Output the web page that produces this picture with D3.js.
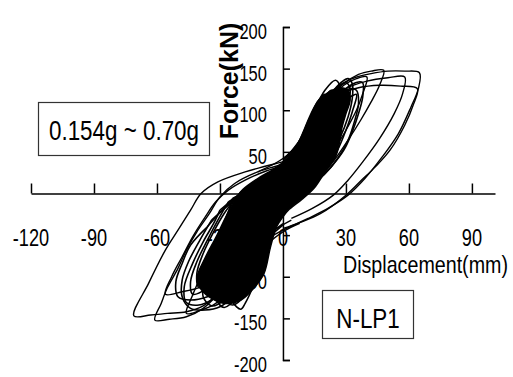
<!DOCTYPE html>
<html>
<head>
<meta charset="utf-8">
<script src="https://cdn.jsdelivr.net/npm/d3@7"></script>
<style>
  html, body { margin: 0; padding: 0; background: #ffffff; }
  svg { display: block; }
</style>
</head>
<body>
<div id="chart"></div>
<script>
// Axis ticks
const xTicks = [-120, -90, -60, -30, 30, 60, 90];
const xLabels = [-120, -90, -60, -30, 0, 30, 60, 90];
const yTicks = [-200, -150, -100, -50, 50, 100, 150, 200];

// Dense core of the small cycles, outline [disp, force]
const coreOutline = [
  [22, 122], [27, 127], [31, 124], [32, 112], [30, 96], [28, 78], [27, 62], [25, 44],
  [20, 26], [15, 7], [9, -7], [3, -19], [0, -28], [-3, -40], [-6, -65], [-9, -96],
  [-14, -114], [-20, -128], [-28, -132], [-34, -126], [-39, -115], [-41, -102],
  [-37, -77], [-32, -53], [-27, -27], [-23, -8], [-19, 5], [-12, 18], [-4, 30],
  [2, 42], [6, 55], [9, 70], [13, 94], [17, 112]
];

// Medium cycles around the core
const mid1 = [[-24, -6], [-14, 8], [-4, 24], [4, 42], [10, 68], [16, 94], [21, 114], [26, 128], [30, 133], [32, 126], [31, 108], [28, 84], [24, 58], [19, 36], [12, 16], [4, -2], [-4, -22], [-10, -48], [-16, -80], [-22, -108], [-28, -128], [-34, -135], [-38, -124], [-37, -100], [-34, -74], [-30, -46], [-26, -22], [-24, -6]];
const mid2 = [[-20, 2], [-10, 16], [0, 32], [6, 52], [12, 80], [18, 104], [23, 120], [27, 127], [28, 110], [26, 88], [23, 64], [18, 40], [12, 20], [4, 2], [-4, -18], [-12, -46], [-20, -72], [-28, -94], [-35, -108], [-40, -113], [-41, -96], [-38, -72], [-33, -46], [-28, -24], [-20, 2]];
const mid3 = [[-18, 6], [-8, 20], [2, 38], [10, 62], [18, 88], [26, 106], [32, 116], [35, 119], [33, 98], [30, 76], [26, 52], [21, 30], [14, 10], [5, -8], [-3, -30], [-9, -62], [-15, -96], [-21, -122], [-28, -137], [-32, -126], [-33, -104], [-31, -78], [-28, -52], [-24, -26], [-18, 6]];
const mid4 = [[-26, -10], [-16, 6], [-6, 22], [2, 40], [8, 62], [14, 90], [19, 112], [23, 124], [25, 120], [24, 100], [21, 78], [17, 54], [11, 30], [4, 10], [-4, -12], [-12, -40], [-20, -70], [-28, -96], [-36, -114], [-43, -121], [-44, -106], [-41, -82], [-36, -56], [-31, -32], [-26, -10]];
const mid5 = [[-30, -20], [-20, 0], [-8, 20], [2, 40], [10, 66], [17, 96], [23, 120], [28, 134], [31, 138], [33, 132], [33, 114], [31, 92], [27, 66], [22, 42], [15, 20], [6, 0], [-2, -20], [-10, -50], [-18, -84], [-26, -112], [-34, -128], [-40, -134], [-46, -131], [-47, -112], [-43, -84], [-38, -58], [-33, -36], [-30, -20]];
const mid6 = [[-16, 10], [-6, 24], [2, 40], [8, 64], [13, 92], [17, 112], [20, 119], [21, 106], [20, 86], [17, 62], [12, 38], [6, 16], [0, -4], [-4, -28], [-8, -60], [-13, -96], [-18, -122], [-24, -134], [-28, -126], [-28, -100], [-26, -70], [-23, -42], [-20, -16], [-16, 10]];
const mid7 = [[-34, -32], [-24, -10], [-12, 10], [0, 30], [10, 58], [18, 88], [25, 112], [31, 128], [36, 134], [38, 133], [38, 116], [36, 96], [33, 74], [29, 52], [23, 32], [16, 14], [8, -2], [0, -18], [-6, -40], [-12, -70], [-18, -100], [-24, -124], [-30, -136], [-37, -140], [-44, -138], [-48, -124], [-48, -104], [-45, -82], [-40, -58], [-34, -32]];
const mid8 = [[-14, 12], [-4, 28], [4, 46], [10, 72], [15, 100], [20, 124], [25, 136], [27, 130], [27, 112], [25, 90], [22, 66], [17, 42], [11, 22], [4, 4], [-2, -16], [-6, -44], [-10, -78], [-14, -110], [-18, -132], [-20, -139], [-24, -130], [-25, -108], [-23, -80], [-20, -52], [-17, -22], [-14, 12]];
const mid9 = [[-36, -40], [-28, -18], [-18, 2], [-6, 22], [4, 44], [12, 70], [20, 98], [27, 118], [32, 126], [35, 124], [36, 108], [34, 86], [31, 64], [26, 42], [20, 24], [12, 8], [4, -8], [-4, -28], [-12, -60], [-20, -92], [-28, -114], [-36, -124], [-44, -128], [-50, -124], [-51, -106], [-48, -84], [-44, -62], [-36, -40]];

// Large positive half cycles
const pos1 = [[-12, 26], [0, 42], [8, 62], [15, 88], [21, 112], [27, 130], [34, 139], [42, 144], [50, 147], [58, 147], [65, 145], [64.5, 126], [61, 104], [55, 72], [47, 43], [39, 18], [31, -2], [22, -17], [12, -30], [0, -44], [-8, -55]];
const pos2 = [[0, 40], [10, 68], [18, 98], [26, 118], [36, 127], [46, 130], [56, 129], [64, 126], [62, 106], [58, 82], [51, 52], [44, 32], [37, 15], [30, -2], [18, -24], [8, -35], [0, -42]];
const pos3 = [[0, 38], [12, 74], [22, 108], [30, 126], [40, 135], [50, 139], [58, 140], [57, 120], [53, 96], [46, 66], [38, 38], [31, 16], [24, -2], [14, -18], [4, -30]];
const pos4 = [[2, 44], [12, 78], [20, 108], [28, 130], [36, 143], [42, 147], [48, 148], [46, 130], [42, 110], [37, 88], [31, 64], [25, 42], [19, 24], [12, 8], [4, -6]];
const pos5 = [[5, 50], [14, 84], [22, 112], [29, 130], [35, 138], [40, 140], [38, 120], [35, 100], [30, 76], [25, 55], [19, 34], [12, 16]];

// Large negative half cycles
const neg1 = [[8, -36], [0, -46], [-10, -66], [-20, -92], [-30, -118], [-38, -135], [-46, -142], [-55, -144], [-63, -146], [-71, -147], [-64, -108], [-56, -68], [-50, -44], [-44, -20], [-39, 0], [-31, 14], [-18, 26], [-8, 33], [2, 40], [10, 52]];
const neg2 = [[4, -32], [-4, -44], [-12, -62], [-22, -92], [-30, -118], [-38, -138], [-46, -148], [-54, -151], [-61, -152], [-58, -132], [-55, -113], [-50, -90], [-46, -68], [-41, -46], [-35, -24], [-30, -4], [-23, 12], [-12, 26], [0, 36], [8, 48]];
const neg3 = [[0, -36], [-10, -56], [-20, -80], [-30, -100], [-40, -113], [-48, -118], [-56, -121], [-53, -100], [-48, -76], [-43, -52], [-37, -28], [-32, -10], [-26, 4], [-18, 16], [-8, 27], [0, 33]];
const neg4 = [[0, -38], [-8, -56], [-16, -82], [-24, -110], [-32, -132], [-40, -141], [-46, -144], [-43, -122], [-40, -104], [-36, -80], [-31, -55], [-26, -30], [-22, -10], [-16, 6], [-6, 21], [2, 32]];

const midLoops = [mid1, mid2, mid3, mid4, mid5, mid6, mid7, mid8, mid9];
const bigLoops = [pos1, pos2, pos3, pos4, pos5, neg1, neg2, neg3, neg4];

const width = 513;
const height = 377;

const svg = d3.select('#chart')
  .append('svg')
  .attr('width', width)
  .attr('height', height);

const x = d3.scaleLinear().domain([-120, 101]).range([31, 495]);
const y = d3.scaleLinear().domain([-200, 200]).range([360, 27]);

const font = '"Liberation Sans", Arial, sans-serif';

// text in a squeezed (condensed) form, like the original lettering
function narrowText(parent, px, py, str, size, squeeze, anchor) {
  return parent.append('text')
    .attr('transform', `translate(${px},${py}) scale(${squeeze},1)`)
    .attr('text-anchor', anchor || 'middle')
    .attr('font-family', font)
    .attr('font-size', size + 'px')
    .attr('fill', '#000')
    .text(str);
}

const fmt = (d) => (d < 0 ? '-' + Math.abs(d) : String(d));

// Tick labels (drawn first so the curves sit on top)
const labels = svg.append('g');
xLabels.forEach((d) => narrowText(labels, x(d), y(0) + 52, fmt(d), 23, 0.79, 'middle'));
yTicks.forEach((d) => narrowText(labels, x(0) - 16, y(d) + 12, fmt(d), 22, 0.75, 'end'));

// X axis: ticks point up
const xAxis = svg.append('g')
  .attr('transform', `translate(0,${y(0)})`)
  .call(d3.axisBottom(x).tickValues(xTicks).tickSizeInner(-10).tickSizeOuter(0).tickFormat(''));

// Y axis: ticks point right
const yAxis = svg.append('g')
  .attr('transform', `translate(${x(0)},0)`)
  .call(d3.axisLeft(y).tickValues(yTicks).tickSizeInner(-7).tickSizeOuter(-7).tickFormat(''));

[xAxis, yAxis].forEach((g) => {
  g.selectAll('path, line').attr('stroke', '#000').attr('stroke-width', 1.5);
  g.selectAll('text').remove();
});

// Curves
const line = d3.line()
  .x((d) => x(d[0]))
  .y((d) => y(d[1]))
  .curve(d3.curveCatmullRom.alpha(0.5));

const closedLine = d3.line()
  .x((d) => x(d[0]))
  .y((d) => y(d[1]))
  .curve(d3.curveCatmullRomClosed.alpha(0.5));

svg.append('path')
  .datum(coreOutline)
  .attr('d', closedLine)
  .attr('fill', '#000')
  .attr('stroke', '#000')
  .attr('stroke-width', 1.5);

svg.append('g')
  .selectAll('path')
  .data(midLoops)
  .enter()
  .append('path')
  .attr('d', line)
  .attr('fill', 'none')
  .attr('stroke', '#000')
  .attr('stroke-width', 1.6);

svg.append('g')
  .selectAll('path')
  .data(bigLoops)
  .enter()
  .append('path')
  .attr('d', line)
  .attr('fill', 'none')
  .attr('stroke', '#000')
  .attr('stroke-width', 1.4)
  .attr('stroke-linejoin', 'round');

// Axis titles
svg.append('text')
  .attr('transform', 'translate(238,81) rotate(-90)')
  .attr('text-anchor', 'middle')
  .attr('font-family', font)
  .attr('font-weight', 'bold')
  .attr('font-size', '25px')
  .attr('fill', '#000')
  .text('Force(kN)');

narrowText(svg, 508, 273, 'Displacement(mm)', 24, 0.82, 'end');

// Annotation boxes
svg.append('rect')
  .attr('x', 38.5)
  .attr('y', 102.5)
  .attr('width', 171)
  .attr('height', 53)
  .attr('fill', '#fff')
  .attr('stroke', '#333')
  .attr('stroke-width', 1.2);

narrowText(svg, 124, 140, '0.154g ~ 0.70g', 28, 0.8, 'middle');

svg.append('rect')
  .attr('x', 322.5)
  .attr('y', 290.5)
  .attr('width', 91)
  .attr('height', 48)
  .attr('fill', '#fff')
  .attr('stroke', '#333')
  .attr('stroke-width', 1.2);

narrowText(svg, 368, 328, 'N-LP1', 28, 0.8, 'middle');
</script>
</body>
</html>
